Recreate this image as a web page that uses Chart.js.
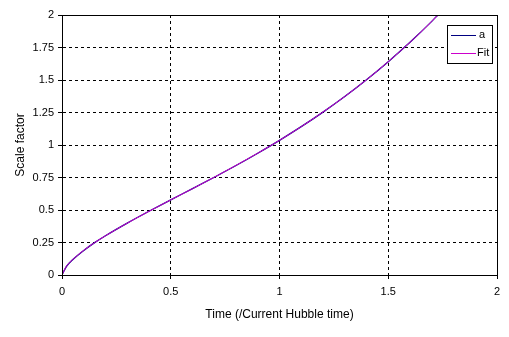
<!DOCTYPE html>
<html>
<head>
<meta charset="utf-8">
<script src="https://cdn.jsdelivr.net/npm/chart.js@4.4.0/dist/chart.umd.min.js"></script>
<style>
html,body{margin:0;padding:0;background:#fff;}
#wrap{width:509px;height:337px;position:relative;}
</style>
</head>
<body>
<div id="wrap"><canvas id="c" width="509" height="337"></canvas></div>
<script>
// Data
const times   = [0, 0.02, 0.05, 0.1, 0.15, 0.2, 0.3, 0.4, 0.5, 0.6, 0.7, 0.8, 0.9, 1.0, 1.1, 1.2, 1.3, 1.4, 1.5, 1.6, 1.7, 1.728];
const aValues = [0, 0.065, 0.119, 0.189, 0.249, 0.302, 0.399, 0.490, 0.578, 0.664, 0.752, 0.842, 0.937, 1.036, 1.141, 1.253, 1.373, 1.502, 1.641, 1.790, 1.951, 2.0];
const fitValues = [0, 0.066, 0.120, 0.190, 0.249, 0.302, 0.399, 0.490, 0.578, 0.664, 0.752, 0.843, 0.937, 1.036, 1.141, 1.254, 1.373, 1.502, 1.641, 1.790, 1.951, 2.0];
const seriesNames = ['a', 'Fit'];
const xTickLabels = ['0', '0.5', '1', '1.5', '2'];
const yTickLabels = ['0', '0.25', '0.5', '0.75', '1', '1.25', '1.5', '1.75', '2'];
const xTitle = 'Time (/Current Hubble time)';
const yTitle = 'Scale factor';

const colors = ['#000080', '#CC00CC'];
const FONT = '"Liberation Sans", Arial, sans-serif';

function pts(vals){ return times.map((t,i)=>({x:t, y:vals[i]})); }

const frame = {
  id: 'frame',
  afterDatasetsDraw(chart){
    const {ctx, chartArea:a} = chart;
    ctx.save();
    ctx.strokeStyle = '#000';
    ctx.lineWidth = 1;
    ctx.setLineDash([]);
    ctx.strokeRect(Math.round(a.left)+0.5, Math.round(a.top)+0.5, Math.round(a.right-a.left), Math.round(a.bottom-a.top));
    // legend box
    const bx = 447, by = 25, bw = 45, bh = 38;
    ctx.fillStyle = '#fff';
    ctx.fillRect(bx, by, bw, bh);
    ctx.strokeRect(bx+0.5, by+0.5, bw, bh);
    ctx.font = '11px ' + FONT;
    ctx.textBaseline = 'middle';
    ctx.textAlign = 'left';
    const rows = [35, 53];
    chart.data.datasets.forEach((ds, i) => {
      const y = rows[i] + 0.5;
      ctx.strokeStyle = ds.borderColor;
      ctx.beginPath();
      ctx.moveTo(451, y); ctx.lineTo(476, y);
      ctx.stroke();
      ctx.fillStyle = '#000';
      ctx.fillText(ds.label, i === 0 ? 479 : 477, rows[i]);
    });
    ctx.restore();
  }
};

const gridOpts = {color: '#000', lineWidth: 1, tickLength: 4, tickBorderDash: [], tickColor: '#000', drawTicks: true};
const borderOpts = {display: true, color: '#000', width: 1, dash: [3, 3]};

new Chart(document.getElementById('c'), {
  type: 'line',
  data: {
    datasets: [
      {label: seriesNames[0], data: pts(aValues), borderColor: colors[0], borderWidth: 1.3, pointRadius: 0, cubicInterpolationMode: 'monotone', fill: false, order: 2},
      {label: seriesNames[1], data: pts(fitValues), borderColor: colors[1], borderWidth: 1, pointRadius: 0, cubicInterpolationMode: 'monotone', fill: false, order: 1}
    ]
  },
  options: {
    responsive: false,
    animation: false,
    events: [],
    layout: {padding: {left: 9, right: 12, top: 15, bottom: 11}},
    plugins: {legend: {display: false}, tooltip: {enabled: false}},
    scales: {
      x: {
        type: 'linear', min: 0, max: 2,
        afterFit(s){ s.height = 51; },
        ticks: {stepSize: 0.5, color: '#000', font: {family: FONT, size: 11}, padding: 6, maxRotation: 0,
          callback: (v) => xTickLabels[Math.round(v / 0.5)] ?? ''},
        grid: gridOpts,
        border: borderOpts,
        title: {display: true, text: xTitle, color: '#000', font: {family: FONT, size: 12}, padding: {top: 4, bottom: 4}}
      },
      y: {
        type: 'linear', min: 0, max: 2,
        afterFit(s){ s.width = 53; },
        ticks: {stepSize: 0.25, color: '#000', font: {family: FONT, size: 11}, padding: 4,
          callback: (v) => yTickLabels[Math.round(v / 0.25)] ?? ''},
        grid: gridOpts,
        border: borderOpts,
        title: {display: true, text: yTitle, color: '#000', font: {family: FONT, size: 12}, padding: {top: 4, bottom: 4}}
      }
    }
  },
  plugins: [frame]
});
</script>
</body>
</html>
